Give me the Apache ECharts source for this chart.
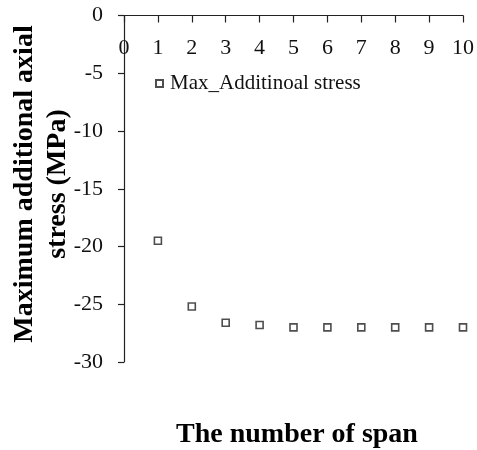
<!DOCTYPE html>
<html><head><meta charset="utf-8">
<script src="https://cdn.jsdelivr.net/npm/echarts@6/dist/echarts.min.js"></script>
<style>html,body{margin:0;padding:0;background:#fff}#c{width:477px;height:450px}</style>
</head><body><div id="c"></div>
<script>
var spans = [1, 2, 3, 4, 5, 6, 7, 8, 9, 10];
var maxAdditionalStress = [-19.5, -25.2, -26.6, -26.8, -27.0, -27.0, -27.0, -27.0, -27.0, -27.0];
var seriesName = 'Max_Additinoal stress';
var xTitle = 'The number of span';
var yTitle = 'Maximum additional axial\nstress (MPa)';

var FONT = "'Liberation Serif','Times New Roman',serif";
var chart = echarts.init(document.getElementById('c'), null, {renderer: 'canvas'});
chart.setOption({
  animation: false,
  backgroundColor: '#fff',
  grid: {left: 124, right: 14, top: 15.5, bottom: 88, containLabel: false},
  legend: {
    data: [{name: seriesName, icon: 'rect'}],
    left: 150, top: 68, itemWidth: 7, itemHeight: 7, itemGap: 5,
    textStyle: {fontFamily: FONT, fontSize: 21, color: '#111', padding: [0,0,0,2]}
  },
  xAxis: {
    type: 'value', position: 'top', min: 0, max: 10, interval: 1,
    axisLine: {show: true, onZero: false, lineStyle: {color: '#222', width: 1.2}},
    axisTick: {show: true, inside: true, length: 7, lineStyle: {color: '#222', width: 1.2}},
    axisLabel: {inside: true, margin: 22, fontFamily: FONT, fontSize: 22, color: '#111'},
    splitLine: {show: false}
  },
  yAxis: {
    type: 'value', min: -30, max: 0, interval: 5,
    axisLine: {show: true, onZero: false, lineStyle: {color: '#222', width: 1.2}},
    axisTick: {show: true, inside: false, length: 6, lineStyle: {color: '#222', width: 1.2}},
    axisLabel: {margin: 21, fontFamily: FONT, fontSize: 22, color: '#111'},
    splitLine: {show: false}
  },
  graphic: [
    {type: 'text', left: 176, top: 421,
      style: {text: xTitle, fontFamily: FONT, fontSize: 28, fontWeight: 'bold', fill: '#000'}},
    {type: 'text', x: 41, y: 184, rotation: Math.PI / 2,
      style: {text: yTitle, fontFamily: FONT, fontSize: 28, fontWeight: 'bold', fill: '#000',
        align: 'center', verticalAlign: 'middle', lineHeight: 33}}
  ],
  series: [{
    name: seriesName, type: 'scatter',
    data: spans.map(function (s, i) { return [s, maxAdditionalStress[i]]; }),
    symbol: 'rect', symbolSize: 7,
    itemStyle: {color: '#fff', borderColor: '#222', borderWidth: 1.6}
  }]
});
</script></body></html>
